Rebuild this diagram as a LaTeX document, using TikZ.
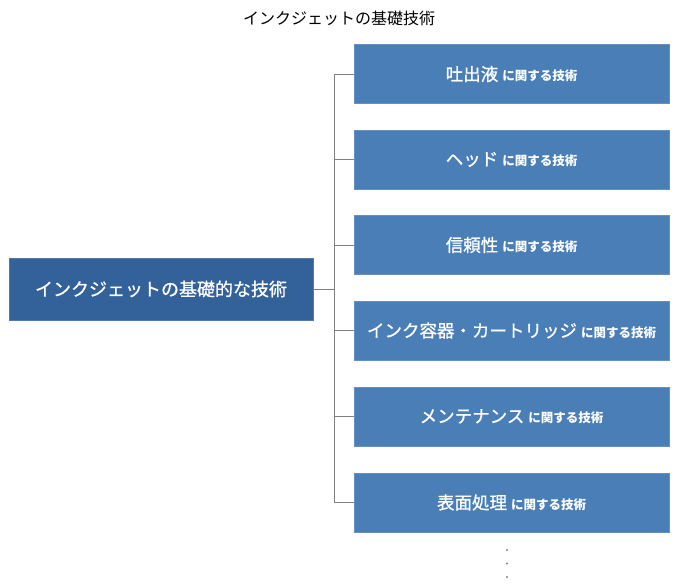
\documentclass[tikz,border=0pt]{standalone}
\usepackage{fontspec}
\setmainfont{Noto Sans CJK JP}
\newfontfamily\medfont[FakeBold=0.9]{Noto Sans CJK JP}
\definecolor{boxblue}{RGB}{74,126,183}
\definecolor{rootblue}{RGB}{51,97,153}
\definecolor{linegray}{RGB}{128,128,128}
\begin{document}
\begin{tikzpicture}[x=1pt,y=-1pt,
  catbox/.style={fill=boxblue,draw=boxblue!85!white,line width=0.6pt,minimum width=315pt,minimum height=59pt,inner sep=0pt,text=white,anchor=center},
  rootbox/.style={fill=rootblue,draw=rootblue!85!white,line width=0.6pt,minimum width=304pt,minimum height=62pt,inner sep=0pt,text=white},
  conn/.style={draw=linegray,line width=0.9pt},
  dotmark/.style={circle,fill=gray,inner sep=0pt,minimum size=2.2pt}]
\useasboundingbox (0,0) rectangle (677,586);
\node (title) at (339,18) {\fontsize{16}{18}\selectfont インクジェットの基礎技術};
\node[rootbox] (root) at (161,289) {\medfont\fontsize{18}{20}\selectfont インクジェットの基礎的な技術};
\newcommand{\cat}[1]{{\medfont\fontsize{17.5}{20}\selectfont #1}\hspace{4pt}{\fontsize{12.5}{14}\selectfont\bfseries に関する技術}}
\node[catbox] (c1) at (511.5,74) {\cat{吐出液}};
\node[catbox] (c2) at (511.5,159.5) {\cat{ヘッド}};
\node[catbox] (c3) at (511.5,245) {\cat{信頼性}};
\node[catbox] (c4) at (511.5,330.5) {\cat{インク容器・カートリッジ}};
\node[catbox] (c5) at (511.5,416.5) {\cat{メンテナンス}};
\node[catbox] (c6) at (511.5,502.5) {\cat{表面処理}};
\coordinate (j0) at (334,289);
\coordinate (jt) at (334,74);
\coordinate (jb) at (334,502.5);
\draw[conn] (root.east) -- (j0);
\draw[conn] (jt) -- (jb);
\foreach \c in {c1,c2,c3,c4,c5,c6}{
  \draw[conn] (\c.west) -- (334,0 |- \c.west);
}
\node[dotmark] (d1) at (507,550) {};
\node[dotmark] (d2) at (507,563.5) {};
\node[dotmark] (d3) at (507,577) {};
\end{tikzpicture}
\end{document}
